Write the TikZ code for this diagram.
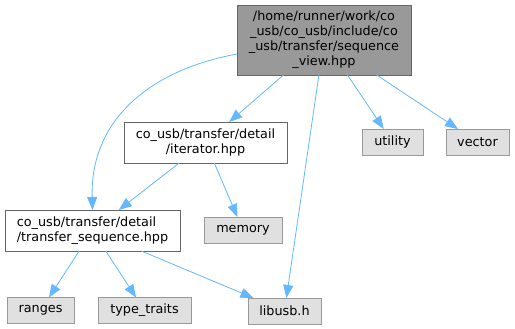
\documentclass[tikz,border=0pt]{standalone}
\usepackage{fontspec}
\setmainfont{DejaVu Sans}
\usetikzlibrary{arrows.meta,calc}
\definecolor{edgeblue}{HTML}{63B8FF}
\definecolor{topfill}{HTML}{999999}
\definecolor{topdraw}{HTML}{666666}
\definecolor{sysfill}{HTML}{E0E0E0}
\definecolor{sysdraw}{HTML}{999999}
\begin{document}
\begin{tikzpicture}[x=1pt,y=-1pt,
  every node/.style={font=\fontsize{12.8}{15}\selectfont, inner sep=0pt, outer sep=0pt, line width=0.9pt},
  topbox/.style={draw=topdraw, fill=topfill, rectangle, align=center},
  filebox/.style={draw=topdraw, fill=white, rectangle},
  sysbox/.style={draw=sysdraw, fill=sysfill, rectangle},
  edge/.style={draw=edgeblue, line width=0.8pt, -{Triangle[length=13pt,width=10pt]}}
]
\useasboundingbox (0,0) rectangle (515,329);
\node[topbox, minimum width=174, minimum height=70] (top) at (324,40)
  {/home/runner/work/co\\\_usb/co\_usb/include/co\\\_usb/transfer/sequence\\\_view.hpp};
\node[filebox, minimum width=163, minimum height=41, align=center] (iter) at (205.5,142.5)
  {co\_usb/transfer/detail\\/iterator.hpp};
\node[filebox, minimum width=175, minimum height=41, align=left] (tseq) at (92.5,230.5)
  {co\_usb/transfer/detail\\/transfer\_sequence.hpp};
\node[sysbox, minimum width=61, minimum height=26] (utility) at (392.5,142) {utility};
\node[sysbox, minimum width=63, minimum height=26] (vector) at (477.5,142) {vector};
\node[sysbox, minimum width=78, minimum height=26] (memory) at (243,230) {memory};
\node[sysbox, minimum width=67, minimum height=26] (ranges) at (40.5,310.5) {ranges};
\node[sysbox, minimum width=93, minimum height=26] (traits) at (144.5,310.5) {type\_traits};
\node[sysbox, minimum width=73, minimum height=26] (libusb) at (284.5,311) {libusb.h};

\draw[edge] (top) -- (iter);
\draw[edge] ($(top.west)+(0,14)$) .. controls (150,70) and (90,120) .. (tseq.north);
\draw[edge] (top) -- (libusb);
\draw[edge] (top) -- (utility);
\draw[edge] (top) -- (vector);
\draw[edge] (iter) -- (tseq);
\draw[edge] (iter) -- (memory);
\draw[edge] (tseq) -- (ranges);
\draw[edge] (tseq) -- (traits);
\draw[edge] (tseq) -- (libusb);
\end{tikzpicture}
\end{document}
